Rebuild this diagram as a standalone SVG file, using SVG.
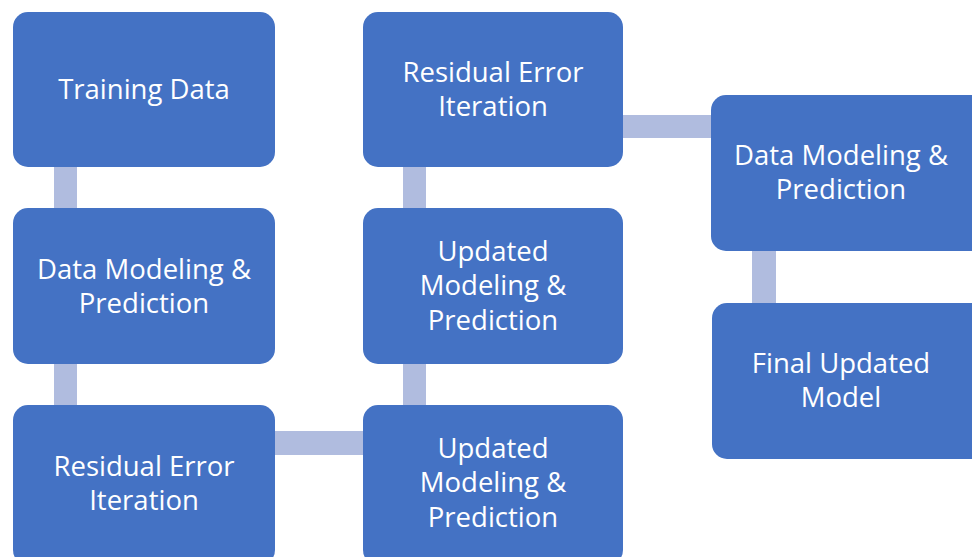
<svg xmlns="http://www.w3.org/2000/svg" width="972" height="557" viewBox="0 0 972 557">
  <style>
    .box { fill: #4472C4; }
    .link { fill: #B0BCDF; }
    .label { fill: #FFFFFF; font-family: "Open Sans", "Noto Sans", sans-serif; font-size: 27.5px; text-anchor: middle; }
  </style>
  <rect width="972" height="557" fill="#FFFFFF"/>

  <!-- connector bars between process boxes -->
  <g id="connectors">
    <rect class="link" x="54" y="166" width="23" height="43"/>
    <rect class="link" x="54" y="363" width="23" height="43"/>
    <rect class="link" x="274" y="431" width="90" height="24"/>
    <rect class="link" x="403" y="363" width="23" height="43"/>
    <rect class="link" x="403" y="166" width="23" height="43"/>
    <rect class="link" x="622" y="115" width="90" height="23"/>
    <rect class="link" x="752" y="250" width="24" height="54"/>
  </g>

  <!-- column 1 -->
  <g id="training-data">
    <rect class="box" x="13" y="12" width="262" height="155" rx="15"/>
    <text class="label" x="144" y="99">Training Data</text>
  </g>
  <g id="data-modeling-1">
    <rect class="box" x="13" y="208" width="262" height="156" rx="15"/>
    <text class="label" x="144" y="279">Data Modeling &amp;</text>
    <text class="label" x="144" y="313">Prediction</text>
  </g>
  <g id="residual-error-1">
    <rect class="box" x="13" y="405" width="262" height="160" rx="15"/>
    <text class="label" x="144" y="476">Residual Error</text>
    <text class="label" x="144" y="510">Iteration</text>
  </g>

  <!-- column 2 -->
  <g id="residual-error-2">
    <rect class="box" x="363" y="12" width="260" height="155" rx="15"/>
    <text class="label" x="493" y="82">Residual Error</text>
    <text class="label" x="493" y="116">Iteration</text>
  </g>
  <g id="updated-modeling-2">
    <rect class="box" x="363" y="208" width="260" height="156" rx="15"/>
    <text class="label" x="493" y="261">Updated</text>
    <text class="label" x="493" y="295">Modeling &amp;</text>
    <text class="label" x="493" y="330">Prediction</text>
  </g>
  <g id="updated-modeling-1">
    <rect class="box" x="363" y="405" width="260" height="160" rx="15"/>
    <text class="label" x="493" y="458">Updated</text>
    <text class="label" x="493" y="492">Modeling &amp;</text>
    <text class="label" x="493" y="527">Prediction</text>
  </g>

  <!-- column 3 -->
  <g id="data-modeling-2">
    <rect class="box" x="711" y="95" width="275" height="156" rx="15"/>
    <text class="label" x="841" y="165">Data Modeling &amp;</text>
    <text class="label" x="841" y="199">Prediction</text>
  </g>
  <g id="final-model">
    <rect class="box" x="712" y="303" width="274" height="156" rx="15"/>
    <text class="label" x="841" y="373">Final Updated</text>
    <text class="label" x="841" y="407">Model</text>
  </g>
</svg>
